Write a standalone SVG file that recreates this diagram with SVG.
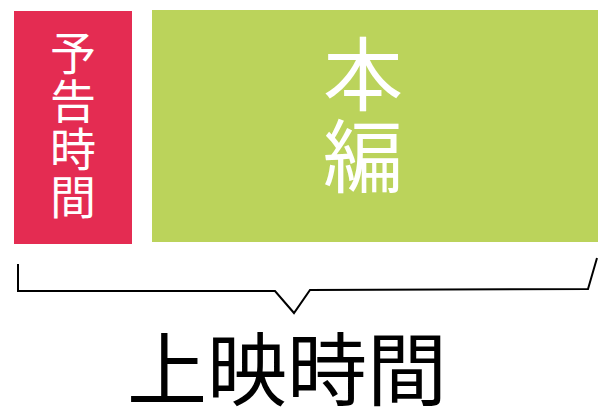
<svg xmlns="http://www.w3.org/2000/svg" width="610" height="416" viewBox="0 0 610 416">
<style>
.jp{font-family:"Noto Sans CJK JP","Noto Sans CJK SC",sans-serif;text-anchor:middle}
.w{fill:#ffffff}
</style>
<rect width="610" height="416" fill="#ffffff"/>
<g id="trailer">
<rect x="14" y="11" width="118" height="233" fill="#E42C52"/>
<text class="jp w" font-size="46"><tspan x="73" y="70">予</tspan><tspan x="73" y="118">告</tspan><tspan x="73" y="166">時</tspan><tspan x="73" y="214">間</tspan></text>
</g>
<g id="main">
<rect x="152" y="10" width="446" height="232" fill="#BBD35B"/>
<text class="jp w" font-size="80"><tspan x="363" y="104">本</tspan><tspan x="363" y="186">編</tspan></text>
</g>
<g id="connectors">
<path d="M18,264 L18,291 L275,291 L294,313 L310,290 L588,289 L597,258" fill="none" stroke="#000" stroke-width="2"/>
</g>
<g id="total">
<text class="jp" x="287" y="399" font-size="80" fill="#000">上映時間</text>
</g>
</svg>
